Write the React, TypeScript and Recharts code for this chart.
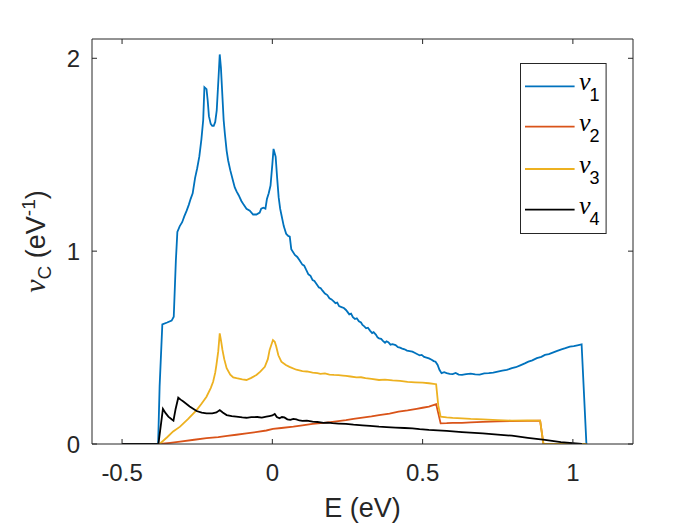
import React from 'react';
import { LineChart, Line, XAxis, YAxis, Legend } from 'recharts';

const AX = '#262626';
const SANS = '"Liberation Sans", Arial, Helvetica, sans-serif';
const SERIF = '"Liberation Serif", "Times New Roman", serif';

const xTicks = [-0.5, 0, 0.5, 1];
const yTicks = [0, 1, 2];
const xDomain = [-0.6, 1.2];
const yDomain = [0, 2.1];

const seriesNames = ['ν1', 'ν2', 'ν3', 'ν4'];
const seriesColors = ['#0072BD', '#D95319', '#EDB120', '#000000'];

const nu1: [number, number][] = [
  [-0.5, 0], [-0.38, 0], [-0.375, 0.3], [-0.366, 0.62], [-0.35, 0.63], [-0.335, 0.64], [-0.328, 0.66],
  [-0.321, 0.95], [-0.316, 1.1], [-0.308, 1.13], [-0.3, 1.15], [-0.293, 1.18], [-0.285, 1.21],
  [-0.278, 1.24], [-0.272, 1.27], [-0.265, 1.3], [-0.257, 1.38], [-0.25, 1.43], [-0.243, 1.49],
  [-0.236, 1.58], [-0.23, 1.68], [-0.226, 1.85], [-0.219, 1.84], [-0.215, 1.78], [-0.211, 1.7],
  [-0.205, 1.66], [-0.2, 1.65], [-0.195, 1.65], [-0.19, 1.67], [-0.185, 1.73], [-0.179, 1.9],
  [-0.175, 2.02], [-0.171, 1.95], [-0.166, 1.8], [-0.162, 1.68], [-0.158, 1.61], [-0.152, 1.52],
  [-0.147, 1.47], [-0.14, 1.42], [-0.13, 1.36], [-0.125, 1.33], [-0.119, 1.31], [-0.112, 1.29],
  [-0.103, 1.26], [-0.095, 1.24], [-0.086, 1.22], [-0.075, 1.21], [-0.064, 1.19], [-0.053, 1.19],
  [-0.042, 1.2], [-0.037, 1.22], [-0.03, 1.225], [-0.023, 1.22], [-0.018, 1.27], [-0.012, 1.3],
  [-0.006, 1.34], [0.0, 1.45], [0.004, 1.53], [0.011, 1.49], [0.016, 1.38], [0.021, 1.28],
  [0.026, 1.22], [0.03, 1.19], [0.038, 1.13], [0.046, 1.09], [0.052, 1.08], [0.058, 1.075],
  [0.063, 1.01], [0.075, 0.98], [0.083, 0.97], [0.09, 0.954], [0.1, 0.93], [0.106, 0.925],
  [0.112, 0.905], [0.12, 0.88], [0.127, 0.872], [0.134, 0.85], [0.14, 0.845], [0.147, 0.83],
  [0.155, 0.812], [0.161, 0.808], [0.167, 0.795], [0.175, 0.78], [0.183, 0.772], [0.19, 0.756],
  [0.197, 0.75], [0.205, 0.738], [0.21, 0.73], [0.216, 0.733], [0.222, 0.715], [0.23, 0.71],
  [0.238, 0.705], [0.245, 0.695], [0.25, 0.685], [0.256, 0.672], [0.262, 0.676], [0.268, 0.658],
  [0.275, 0.648], [0.281, 0.652], [0.288, 0.636], [0.295, 0.63], [0.3, 0.617], [0.306, 0.61],
  [0.312, 0.6], [0.318, 0.603], [0.325, 0.588], [0.332, 0.575], [0.337, 0.58], [0.345, 0.566],
  [0.35, 0.553], [0.355, 0.548], [0.362, 0.545], [0.368, 0.535], [0.375, 0.525], [0.38, 0.532],
  [0.386, 0.528], [0.393, 0.515], [0.4, 0.518], [0.41, 0.513], [0.418, 0.502], [0.425, 0.5],
  [0.432, 0.495], [0.44, 0.491], [0.448, 0.484], [0.457, 0.482], [0.466, 0.479], [0.475, 0.472],
  [0.483, 0.465], [0.49, 0.46], [0.497, 0.462], [0.505, 0.452], [0.513, 0.448], [0.521, 0.444],
  [0.53, 0.437], [0.537, 0.43], [0.543, 0.427], [0.55, 0.41], [0.556, 0.385], [0.563, 0.367],
  [0.572, 0.372], [0.58, 0.368], [0.59, 0.364], [0.6, 0.362], [0.61, 0.368], [0.62, 0.36],
  [0.631, 0.358], [0.645, 0.362], [0.66, 0.365], [0.675, 0.361], [0.69, 0.36], [0.705, 0.366],
  [0.72, 0.367], [0.735, 0.37], [0.75, 0.375], [0.765, 0.38], [0.78, 0.384], [0.797, 0.393],
  [0.81, 0.398], [0.825, 0.408], [0.84, 0.418], [0.852, 0.427], [0.865, 0.434], [0.88, 0.445],
  [0.895, 0.452], [0.907, 0.462], [0.92, 0.466], [0.935, 0.475], [0.948, 0.483], [0.962, 0.491],
  [0.975, 0.497], [0.99, 0.505], [1.003, 0.508], [1.015, 0.512], [1.029, 0.517], [1.045, 0],
];

const nu2: [number, number][] = [
  [-0.5, 0], [-0.375, 0], [-0.34, 0.006], [-0.307, 0.012], [-0.26, 0.022], [-0.219, 0.03],
  [-0.18, 0.036], [-0.15, 0.042], [-0.12, 0.048], [-0.086, 0.055], [-0.05, 0.063], [-0.02, 0.07],
  [0.002, 0.078], [0.03, 0.083], [0.07, 0.09], [0.1, 0.097], [0.134, 0.104], [0.17, 0.11],
  [0.2, 0.115], [0.245, 0.124], [0.27, 0.13], [0.3, 0.137], [0.33, 0.143], [0.355, 0.15],
  [0.39, 0.158], [0.42, 0.168], [0.45, 0.174], [0.48, 0.182], [0.5, 0.188], [0.521, 0.194],
  [0.545, 0.207], [0.552, 0.16], [0.56, 0.107], [0.58, 0.108], [0.6, 0.11], [0.631, 0.11],
  [0.66, 0.112], [0.7, 0.115], [0.75, 0.117], [0.797, 0.119], [0.85, 0.12], [0.891, 0.121],
  [0.902, 0], [1.045, 0],
];

const nu3: [number, number][] = [
  [-0.5, 0], [-0.375, 0], [-0.35, 0.035], [-0.33, 0.065], [-0.307, 0.09], [-0.28, 0.13],
  [-0.252, 0.176], [-0.235, 0.21], [-0.219, 0.245], [-0.205, 0.29], [-0.197, 0.323],
  [-0.19, 0.37], [-0.186, 0.41], [-0.18, 0.48], [-0.175, 0.574], [-0.17, 0.53], [-0.166, 0.488],
  [-0.16, 0.44], [-0.152, 0.393], [-0.14, 0.36], [-0.13, 0.345], [-0.119, 0.341], [-0.1, 0.335],
  [-0.086, 0.332], [-0.07, 0.343], [-0.053, 0.358], [-0.04, 0.375], [-0.025, 0.4], [-0.015, 0.44],
  [-0.009, 0.488], [0.002, 0.539], [0.008, 0.53], [0.013, 0.505], [0.02, 0.46], [0.03, 0.427],
  [0.045, 0.41], [0.057, 0.4], [0.08, 0.385], [0.1, 0.378], [0.115, 0.376], [0.134, 0.37],
  [0.15, 0.368], [0.16, 0.364], [0.175, 0.366], [0.19, 0.36], [0.205, 0.358], [0.22, 0.357],
  [0.235, 0.355], [0.245, 0.353], [0.26, 0.35], [0.28, 0.345], [0.295, 0.346], [0.31, 0.342],
  [0.33, 0.338], [0.355, 0.332], [0.375, 0.334], [0.4, 0.33], [0.425, 0.327], [0.45, 0.322],
  [0.475, 0.32], [0.5, 0.318], [0.521, 0.315], [0.545, 0.31], [0.552, 0.2], [0.56, 0.142],
  [0.58, 0.138], [0.6, 0.135], [0.631, 0.133], [0.66, 0.13], [0.7, 0.128], [0.75, 0.124],
  [0.797, 0.121], [0.85, 0.122], [0.891, 0.121], [0.902, 0], [1.045, 0],
];

const nu4: [number, number][] = [
  [-0.5, 0], [-0.379, 0], [-0.364, 0.182], [-0.355, 0.16], [-0.346, 0.142], [-0.335, 0.128],
  [-0.329, 0.121], [-0.322, 0.18], [-0.313, 0.24], [-0.305, 0.23], [-0.296, 0.22], [-0.275, 0.195],
  [-0.252, 0.171], [-0.235, 0.163], [-0.219, 0.159], [-0.2, 0.159], [-0.186, 0.164],
  [-0.175, 0.176], [-0.165, 0.163], [-0.152, 0.15], [-0.135, 0.145], [-0.12, 0.142],
  [-0.1, 0.138], [-0.086, 0.136], [-0.07, 0.139], [-0.05, 0.14], [-0.035, 0.137], [-0.02, 0.142],
  [-0.01, 0.145], [0.0, 0.148], [0.008, 0.156], [0.015, 0.14], [0.024, 0.133], [0.032, 0.14],
  [0.04, 0.138], [0.05, 0.128], [0.06, 0.125], [0.07, 0.13], [0.08, 0.128], [0.09, 0.122],
  [0.1, 0.12], [0.115, 0.121], [0.134, 0.116], [0.15, 0.114], [0.17, 0.11], [0.185, 0.111],
  [0.2, 0.108], [0.22, 0.106], [0.245, 0.104], [0.27, 0.1], [0.3, 0.097], [0.325, 0.094],
  [0.355, 0.09], [0.38, 0.088], [0.41, 0.085], [0.44, 0.083], [0.466, 0.081], [0.49, 0.077],
  [0.521, 0.073], [0.55, 0.071], [0.58, 0.068], [0.631, 0.062], [0.7, 0.055], [0.75, 0.049],
  [0.797, 0.043], [0.85, 0.032], [0.907, 0.021], [0.96, 0.01], [1.0, 0.004], [1.03, 0],
];

const allSeries = [nu1, nu2, nu3, nu4];

const toRows = (pts: [number, number][]) => pts.map(([x, y]) => ({ x, y }));

const fmt = (v: number) => String(v);

const BottomTick = (props: any) => {
  const { x, y, payload } = props;
  return (
    <g>
      <line x1={x} y1={y} x2={x} y2={y - 5} stroke={AX} strokeWidth={1} />
      <text x={x} y={y + 36.5} textAnchor="middle" fontSize={24} fill={AX} fontFamily={SANS}>
        {fmt(payload.value)}
      </text>
    </g>
  );
};

const TopTick = (props: any) => {
  const { x, y } = props;
  return <line x1={x} y1={y} x2={x} y2={y + 5} stroke={AX} strokeWidth={1} />;
};

const LeftTick = (props: any) => {
  const { x, y, payload } = props;
  return (
    <g>
      <line x1={x} y1={y} x2={x + 5} y2={y} stroke={AX} strokeWidth={1} />
      <text x={x - 12} y={y + 9} textAnchor="end" fontSize={24} fill={AX} fontFamily={SANS}>
        {fmt(payload.value)}
      </text>
    </g>
  );
};

const RightTick = (props: any) => {
  const { x, y } = props;
  return <line x1={x} y1={y} x2={x - 5} y2={y} stroke={AX} strokeWidth={1} />;
};

const XLabel = (props: any) => {
  const vb = props.viewBox || { x: 92, y: 444, width: 541, height: 0 };
  const cx = vb.x + vb.width / 2;
  return (
    <text x={cx} y={vb.y + 73} textAnchor="middle" fontSize={27} fill={AX} fontFamily={SANS}>
      E (eV)
    </text>
  );
};

const YLabel = (props: any) => {
  const vb = props.viewBox || { x: 92, y: 39, width: 0, height: 405 };
  const cx = vb.x + vb.width - 47;
  const cy = vb.y + vb.height / 2;
  return (
    <text
      x={cx}
      y={cy}
      transform={`rotate(-90, ${cx}, ${cy})`}
      textAnchor="middle"
      fontSize={27}
      fill={AX}
      fontFamily={SANS}
    >
      <tspan fontFamily={SERIF} fontStyle="italic" fontSize={30}>ν</tspan>
      <tspan fontSize={19} dy={6}>C</tspan>
      <tspan dy={-6}> (eV</tspan>
      <tspan fontSize={19} dy={-10}>-1</tspan>
      <tspan dy={10}>)</tspan>
    </text>
  );
};

const LegendBox = (props: any) => {
  const payload = (props.payload || []) as any[];
  const rowY = [23.4, 63.7, 106, 146.7];
  return (
    <svg width={87} height={171} style={{ display: 'block', overflow: 'visible' }}>
      <rect x={0.5} y={0.5} width={85.6} height={170} fill="#ffffff" stroke={AX} strokeWidth={1} />
      {payload.map((p, i) => {
        const y = rowY[i];
        const sub = String(p.value).slice(1);
        return (
          <g key={i}>
            <line x1={5} y1={y} x2={54.6} y2={y} stroke={p.color} strokeWidth={1.8} />
            <text x={59} y={y + 4} fontFamily={SERIF} fontStyle="italic" fontSize={26} fill="#000">ν</text>
            <text x={69.5} y={y + 15} fontFamily={SANS} fontSize={18} fill="#000">{sub}</text>
          </g>
        );
      })}
    </svg>
  );
};

export default function App() {
  return (
    <div style={{ position: 'absolute', left: 0, top: 0, width: 700, height: 525, background: '#fff' }}>
      <LineChart width={700} height={525} margin={{ top: 38, right: 66, bottom: 80, left: 91 }}>
        <XAxis
          xAxisId="b"
          type="number"
          dataKey="x"
          domain={xDomain}
          ticks={xTicks}
          allowDataOverflow
          orientation="bottom"
          height={1}
          tickSize={0}
          tickMargin={0}
          tickLine={false}
          axisLine={{ stroke: AX, strokeWidth: 1 }}
          tick={<BottomTick />}
          interval={0}
          label={<XLabel />}
        />
        <XAxis
          xAxisId="t"
          type="number"
          dataKey="x"
          domain={xDomain}
          ticks={xTicks}
          allowDataOverflow
          orientation="top"
          height={1}
          tickSize={0}
          tickMargin={0}
          tickLine={false}
          axisLine={{ stroke: AX, strokeWidth: 1 }}
          tick={<TopTick />}
          interval={0}
        />
        <YAxis
          yAxisId="l"
          type="number"
          domain={yDomain}
          ticks={yTicks}
          allowDataOverflow
          orientation="left"
          width={1}
          tickSize={0}
          tickMargin={0}
          tickLine={false}
          axisLine={{ stroke: AX, strokeWidth: 1 }}
          tick={<LeftTick />}
          interval={0}
          label={<YLabel />}
        />
        <YAxis
          yAxisId="r"
          type="number"
          domain={yDomain}
          ticks={yTicks}
          allowDataOverflow
          orientation="right"
          width={1}
          tickSize={0}
          tickMargin={0}
          tickLine={false}
          axisLine={{ stroke: AX, strokeWidth: 1 }}
          tick={<RightTick />}
          interval={0}
        />
        {allSeries.map((s, i) => (
          <Line
            key={seriesNames[i]}
            xAxisId="b"
            yAxisId="l"
            data={toRows(s)}
            dataKey="y"
            name={seriesNames[i]}
            stroke={seriesColors[i]}
            strokeWidth={1.8}
            dot={false}
            activeDot={false}
            type="linear"
            isAnimationActive={false}
          />
        ))}
        <Legend
          layout="vertical"
          align="center"
          verticalAlign="middle"
          wrapperStyle={{ position: 'absolute', left: 520, top: 63, width: 87, height: 171 }}
          content={<LegendBox />}
        />
      </LineChart>
    </div>
  );
}
